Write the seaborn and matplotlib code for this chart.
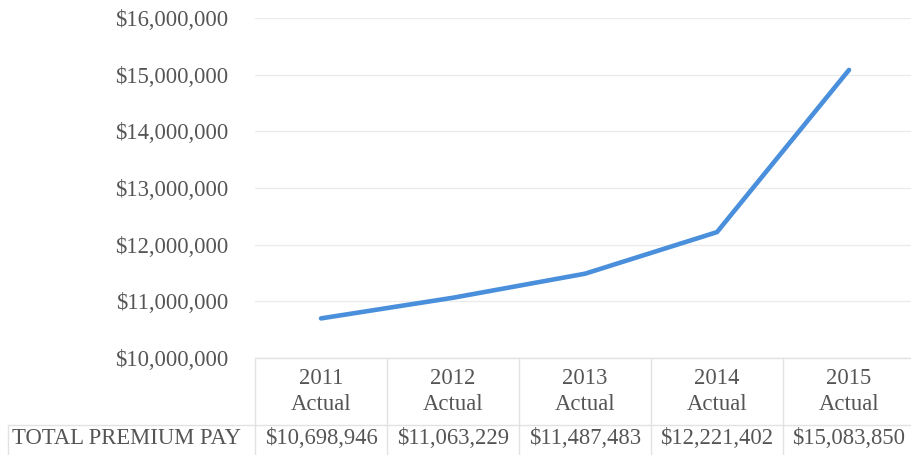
import matplotlib
matplotlib.use("Agg")
import matplotlib.pyplot as plt
import matplotlib.ticker as mticker
import seaborn as sns
import pandas as pd

# Annual totals
years = ["2011", "2012", "2013", "2014", "2015"]
period = ["Actual", "Actual", "Actual", "Actual", "Actual"]
premium_pay = [10698946, 11063229, 11487483, 12221402, 15083850]
row_label = "TOTAL PREMIUM PAY"
y_ticks = [10000000, 11000000, 12000000, 13000000, 14000000, 15000000, 16000000]

df = pd.DataFrame({"year": years, "premium": premium_pay})

sns.set_theme(style="white")
plt.rcParams["font.family"] = ["Liberation Serif", "DejaVu Serif"]

text_color = "#555555"
grid_color = "#ebebeb"
table_color = "#e2e2e2"
line_color = "#4a8fdb"
fs = 16.3

W, H = 912, 455
fig = plt.figure(figsize=(W / 100, H / 100), dpi=100)
left_px, right_px, top_px, bottom_px = 255, 915, 18, 358
ax = fig.add_axes([left_px / W, 1 - bottom_px / H,
                   (right_px - left_px) / W, (bottom_px - top_px) / H])

sns.lineplot(data=df, x="year", y="premium", ax=ax, color=line_color,
             linewidth=3.3, solid_capstyle="round", solid_joinstyle="round",
             sort=False)

ax.set_xlim(-0.5, len(years) - 0.5)
ax.set_ylim(y_ticks[0], y_ticks[-1])
ax.set_yticks(y_ticks)
ax.yaxis.set_major_formatter(mticker.FuncFormatter(lambda v, _: f"${v:,.0f}"))
ax.tick_params(axis="y", labelsize=fs, labelcolor=text_color, length=0, pad=19)
ax.set_xticks([])
ax.set_xlabel("")
ax.set_ylabel("")
ax.grid(axis="y", color=grid_color, linewidth=1.0)
ax.set_axisbelow(True)
for s in ax.spines.values():
    s.set_visible(False)

# Data table beneath the plot
trans = ax.get_xaxis_transform()
ax_h = bottom_px - top_px
def fy(px):
    return (bottom_px - px) / ax_h

table_line = dict(color=table_color, linewidth=1.0, clip_on=False, transform=trans)
for i in range(len(years) + 1):
    ax.plot([i - 0.5, i - 0.5], [fy(358), fy(470)], **table_line)
ax.plot([-0.5, len(years) - 0.5], [fy(358), fy(358)], **table_line)

# row separator spanning the label column too
sep_y = 1 - 425 / H
fig.add_artist(plt.Line2D([8 / W, right_px / W], [sep_y, sep_y],
                          color=table_color, linewidth=1.0))
fig.add_artist(plt.Line2D([8 / W, 8 / W], [sep_y, 0],
                          color=table_color, linewidth=1.0))

for i, (yr, per, val) in enumerate(zip(years, period, premium_pay)):
    ax.text(i, fy(378), yr, transform=trans, ha="center", va="center",
            fontsize=fs, color=text_color, clip_on=False)
    ax.text(i, fy(404), per, transform=trans, ha="center", va="center",
            fontsize=fs, color=text_color, clip_on=False)
    ax.text(i, fy(439), f"${val:,.0f}", transform=trans, ha="center",
            va="center", fontsize=fs, color=text_color, clip_on=False)

fig.text(12 / W, 1 - 439 / H, row_label, ha="left", va="center",
         fontsize=fs, color=text_color)

fig.savefig("out.png", dpi=100, facecolor="white")
